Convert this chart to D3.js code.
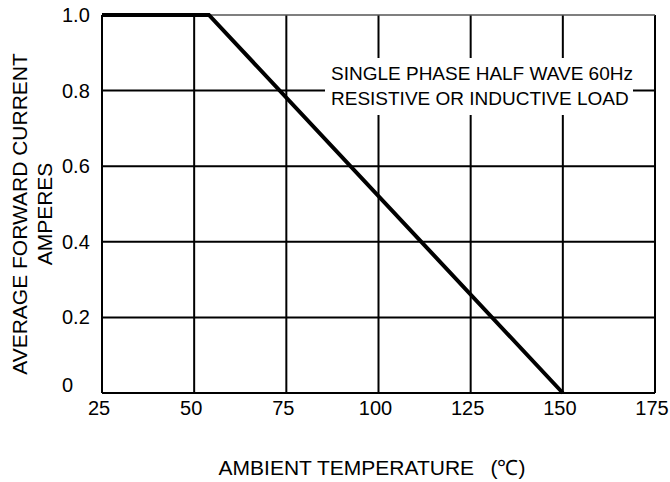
<!DOCTYPE html>
<html>
<head>
<meta charset="utf-8">
<script src="https://cdn.jsdelivr.net/npm/d3@7"></script>
<style>
	body { margin: 0; background: #fff; }
	text { font-family: "Liberation Sans", Arial, sans-serif; fill: #000; }
</style>
</head>
<body>
<div class="content"></div>
<script>
const w = 670;
const h = 482;

// chart values
const tempTicks = [25, 50, 75, 100, 125, 150, 175];
const currentTicks = [0, 0.2, 0.4, 0.6, 0.8, 1.0];
const curveTemp = [25, 54, 150];
const curveCurrent = [1.0, 1.0, 0];
const noteLines = ['SINGLE PHASE HALF WAVE 60Hz', 'RESISTIVE OR INDUCTIVE LOAD'];
const yTitle = ['AVERAGE FORWARD CURRENT', 'AMPERES'];
const xTitle = 'AMBIENT TEMPERATURE \u2002(\u2103)';

const plotL = 102, plotR = 655, plotT = 15, plotB = 393;

const x = d3.scaleLinear().domain([25, 175]).range([plotL, plotR]);
const y = d3.scaleLinear().domain([0, 1]).range([plotB, plotT]);

const svg = d3.select('.content').append('svg')
	.attr('width', w)
	.attr('height', h);

// grid
svg.append('g').selectAll('line')
	.data(tempTicks)
	.enter()
	.append('line')
	.attr('x1', d => x(d))
	.attr('x2', d => x(d))
	.attr('y1', plotT)
	.attr('y2', plotB)
	.attr('stroke', '#000')
	.attr('stroke-width', 2);

svg.append('g').selectAll('line')
	.data(currentTicks)
	.enter()
	.append('line')
	.attr('x1', plotL)
	.attr('x2', plotR)
	.attr('y1', d => y(d))
	.attr('y2', d => y(d))
	.attr('stroke', d => d === 1 ? '#555' : '#000')
	.attr('stroke-width', d => d === 1 ? 1.5 : 2);

// note box
const note = svg.append('g');
note.append('rect')
	.attr('x', 325)
	.attr('y', 58)
	.attr('width', 308)
	.attr('height', 57)
	.attr('fill', '#fff');
note.selectAll('text')
	.data(noteLines)
	.enter()
	.append('text')
	.attr('x', 331)
	.attr('y', (d, i) => 80 + i * 25)
	.style('font-size', '19px')
	.text(d => d);

// derating curve
const line = d3.line()
	.x((d, i) => x(curveTemp[i]))
	.y((d, i) => y(curveCurrent[i]));

svg.append('path')
	.datum(curveTemp)
	.attr('d', line)
	.attr('fill', 'none')
	.attr('stroke', '#000')
	.attr('stroke-width', 4)
	.attr('stroke-linejoin', 'miter');

// tick labels
svg.append('g').selectAll('text')
	.data(tempTicks)
	.enter()
	.append('text')
	.attr('x', d => x(d) - 3)
	.attr('y', 415)
	.attr('text-anchor', 'middle')
	.style('font-size', '20px')
	.text(d => d);

svg.append('g').selectAll('text')
	.data(currentTicks)
	.enter()
	.append('text')
	.attr('x', 62)
	.attr('y', d => y(d) + (d === 0 ? -1 : 7))
	.style('font-size', '20px')
	.text(d => d === 0 ? '0' : d3.format('.1f')(d));

// axis titles
svg.append('text')
	.attr('x', 372)
	.attr('y', 475)
	.attr('text-anchor', 'middle')
	.style('font-size', '21px')
	.text(xTitle);

svg.append('g')
	.attr('transform', 'translate(0,214) rotate(-90)')
	.selectAll('text')
	.data(yTitle)
	.enter()
	.append('text')
	.attr('x', 0)
	.attr('y', (d, i) => 27 + i * 25)
	.attr('text-anchor', 'middle')
	.style('font-size', '21px')
	.text(d => d);
</script>
</body>
</html>
